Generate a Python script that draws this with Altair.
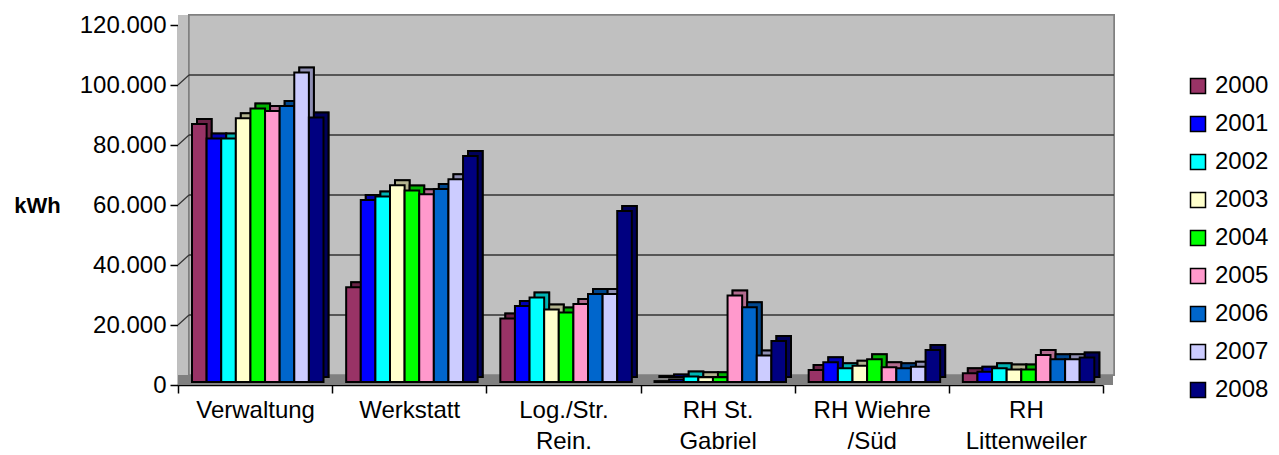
import altair as alt
import pandas as pd

# Annual electricity consumption per building, kWh
years = ["2000", "2001", "2002", "2003", "2004", "2005", "2006", "2007", "2008"]
categories = [
    "Verwaltung",
    "Werkstatt",
    "Log./Str.\nRein.",
    "RH St.\nGabriel",
    "RH Wiehre\n/Süd",
    "RH\nLittenweiler",
]
year_colors = ["#993366", "#0000FF", "#00FFFF", "#FFFFCC", "#00FF00",
               "#FF99CC", "#0066CC", "#CCCCFF", "#000080"]

verwaltung = [86000, 81200, 81200, 87900, 91200, 90300, 92000, 103200, 88200]
werkstatt = [31600, 60700, 61800, 65600, 63800, 62600, 64300, 67600, 75300]
log_str_rein = [21200, 25300, 28200, 24200, 23200, 26000, 29300, 29300, 57000]
rh_st_gabriel = [300, 800, 1800, 1600, 1600, 28800, 24900, 8800, 13700]
rh_wiehre_sued = [4000, 6600, 4600, 5400, 7600, 4900, 4600, 5100, 10700]
rh_littenweiler = [2900, 3400, 4600, 4200, 4200, 9000, 7600, 7600, 8200]

y_ticks = [0, 20000, 40000, 60000, 80000, 100000, 120000]
grid_values = [20000, 40000, 60000, 80000, 100000]

series = [verwaltung, werkstatt, log_str_rein, rh_st_gabriel,
          rh_wiehre_sued, rh_littenweiler]
df = pd.DataFrame(
    [{"Gebäude": c, "Jahr": y, "kWh": v}
     for c, vals in zip(categories, series)
     for y, v in zip(years, vals)]
)
grid_df = pd.DataFrame({"kWh": grid_values})

W, H = 925, 360          # front plane of the plot box
DEPTH = 10               # depth of the back wall
BAR_D = 5                # depth of each bar
LIFT = 3                 # bars stand slightly behind the front edge
GROUP_START = 14         # left gap before the first bar of a group
GROUP_W = 131.5          # width of one group of nine bars
FONT = "Liberation Sans"

x_scale = alt.Scale(paddingInner=0, paddingOuter=0)
y_scale = alt.Scale(domain=[0, 120000])

x_axis = alt.Axis(
    labelExpr="split(datum.label, '\\n')", labelAngle=0,
    labelFont=FONT, labelFontSize=24, labelColor="black",
    labelLineHeight=31, labelPadding=5, labelBaseline="top",
    tickBand="extent", tickSize=8, tickColor="black", tickWidth=1.5,
    domainColor="black", domainWidth=1.5, grid=False,
)
y_axis = alt.Axis(
    values=y_ticks,
    labelExpr="replace(format(datum.value, ','), ',', '.')",
    labelFont=FONT, labelFontSize=24, labelColor="black",
    labelPadding=4, tickSize=8, tickColor="black", tickWidth=1.5,
    domainColor="black", domainWidth=1.5, grid=False,
    title="kWh", titleAngle=0, titleFont=FONT, titleFontSize=22,
    titleFontWeight="bold", titleColor="black",
    titleX=-141, titleY=180, titleAlign="center", titleBaseline="middle",
)

x_enc = alt.X("Gebäude:N", sort=categories, title=None,
              scale=x_scale, axis=x_axis)
y_enc = alt.Y("kWh:Q", title="kWh", scale=y_scale, axis=y_axis)
color_enc = alt.Color(
    "Jahr:N", sort=years,
    scale=alt.Scale(domain=years, range=year_colors),
    legend=alt.Legend(
        title=None, orient="none", legendX=1008, legendY=49,
        symbolType="square", symbolSize=225, symbolStrokeColor="black",
        symbolStrokeWidth=1.5, symbolOpacity=1, labelFont=FONT,
        labelFontSize=24, labelColor="black", rowPadding=14,
        labelOffset=5, padding=0,
    ),
)


def xo(shift):
    # year offset inside each building group, moved right by `shift` px
    return alt.XOffset(
        "Jahr:N", sort=years,
        scale=alt.Scale(range=[GROUP_START + shift,
                               GROUP_START + GROUP_W + shift]),
    )


# box: left wall, back wall, floor
left_wall = alt.Chart(grid_df).mark_rect(fill="#C0C0C0").encode(
    x=alt.value(0), x2=alt.value(DEPTH + 1),
    y=alt.value(-DEPTH), y2=alt.value(H),
)
back_wall = alt.Chart(grid_df).mark_rect(
    fill="#C0C0C0", stroke="#808080", strokeWidth=1.5
).encode(
    x=alt.value(DEPTH + 1), x2=alt.value(W + DEPTH + 1),
    y=alt.value(-DEPTH), y2=alt.value(H - DEPTH),
)
floor = alt.Chart(grid_df).mark_rect(fill="#808080").encode(
    x=alt.value(0), x2=alt.value(W + DEPTH),
    y=alt.value(H - DEPTH), y2=alt.value(H),
)

# gridlines on the back wall and their diagonals on the left wall
grid_back = alt.Chart(grid_df).mark_rule(
    color="#333333", strokeWidth=1.5, yOffset=-DEPTH
).encode(
    y=y_enc,
    x=alt.value(DEPTH + 1), x2=alt.value(W + DEPTH + 1),
)
grid_side = alt.Chart(grid_df).mark_rule(
    color="#333333", strokeWidth=1.2, y2Offset=-DEPTH
).encode(
    y=y_enc, y2="kWh:Q",
    x=alt.value(0), x2=alt.value(DEPTH + 1),
)

# bars: a darkened copy shifted back gives the top and side faces
bars_depth_base = alt.Chart(df).mark_bar(
    fill="black", stroke="black", strokeWidth=2,
    yOffset=-LIFT - BAR_D, y2Offset=-LIFT - BAR_D,
).encode(x=x_enc, xOffset=xo(BAR_D), y=y_enc)

bars_depth = alt.Chart(df).mark_bar(
    stroke="black", strokeWidth=2, opacity=0.7,
    yOffset=-LIFT - BAR_D, y2Offset=-LIFT - BAR_D,
).encode(x=x_enc, xOffset=xo(BAR_D), y=y_enc, color=color_enc)

bars_front = alt.Chart(df).mark_bar(
    stroke="black", strokeWidth=2, opacity=1,
    yOffset=-LIFT, y2Offset=-LIFT,
).encode(x=x_enc, xOffset=xo(0), y=y_enc, color=color_enc)

chart = alt.layer(
    left_wall, back_wall, floor, grid_back, grid_side,
    bars_depth_base, bars_depth, bars_front,
).resolve_scale(
    xOffset="independent"
).properties(
    width=W, height=H,
    autosize=alt.AutoSizeParams(type="none"),
    padding={"left": 178, "top": 25, "right": 176, "bottom": 70},
    background="white",
).configure_view(stroke=None)

chart.save("out.html", embed_options={"renderer": "svg", "actions": False})
